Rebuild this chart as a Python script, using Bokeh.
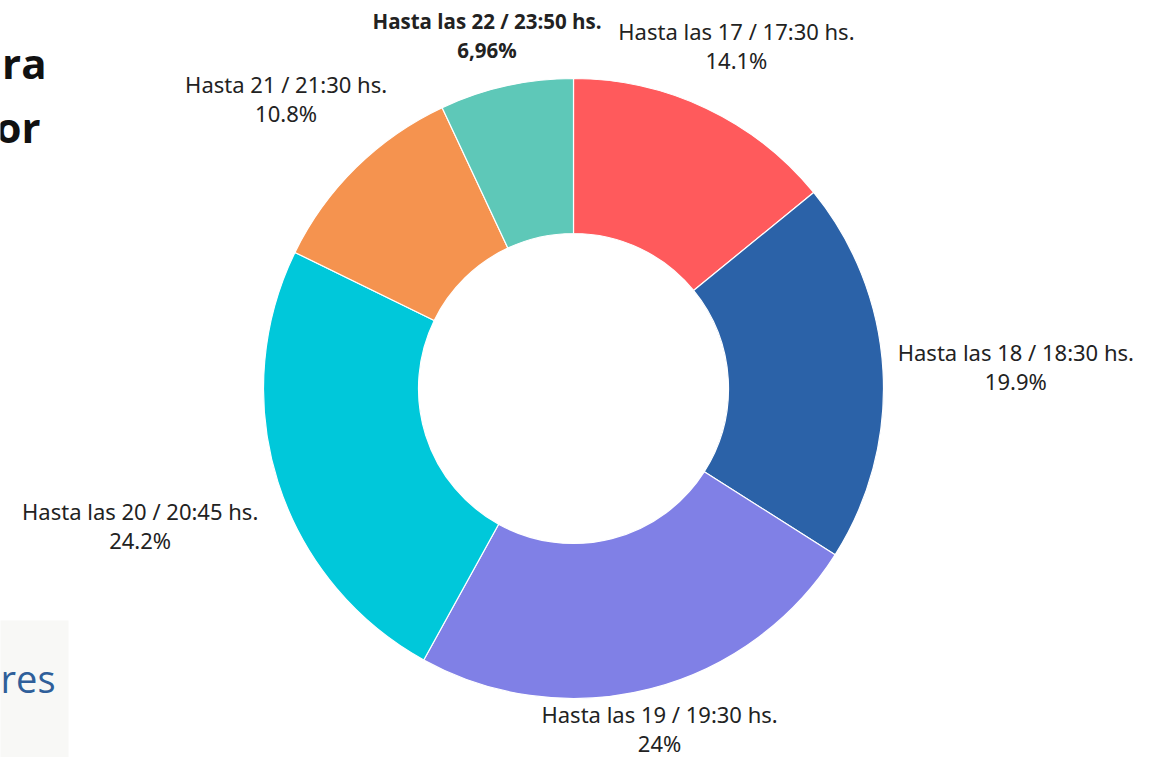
import math
from bokeh.plotting import figure
from bokeh.models import Range1d, ColumnDataSource
from bokeh.core.properties import value
from bokeh.embed import file_html
from bokeh.resources import INLINE

# ---- data ----
labels = ["Hasta las 17 / 17:30 hs.", "Hasta las 18 / 18:30 hs.", "Hasta las 19 / 19:30 hs.",
          "Hasta las 20 / 20:45 hs.", "Hasta 21 / 21:30 hs.", "Hasta las 22 / 23:50 hs."]
pct_text = ["14.1%", "19.9%", "24%", "24.2%", "10.8%", "6,96%"]
values = [14.1, 19.9, 24.0, 24.2, 10.8, 6.96]
colors = ["#FF5A5C", "#2B62A8", "#8080E6", "#00C8DA", "#F5934F", "#5EC8B8"]
bold = [False, False, False, False, False, True]

# ---- layout (data coordinates = screen pixels, y flipped) ----
W, H = 1145, 757
CX = 573
CY = H - 388
R_OUT, R_IN = 310, 155
R_LAB = 380
# per-label fine tuning (screen px: dx right, dy down)
lab_dx = [0, 63, -8, -71, -21, -4]
lab_dy = [0, 0, -28, 22, -19, 18]

p = figure(width=W, height=H, output_backend="svg", toolbar_location=None,
           x_range=Range1d(0, W), y_range=Range1d(0, H), min_border=0)
p.axis.visible = False
p.grid.visible = False
p.outline_line_color = None
p.background_fill_color = "white"
p.border_fill_color = "white"

total = sum(values)
starts, ends, mids = [], [], []
acc = 0.0
for v in values:
    a0 = math.pi / 2 - 2 * math.pi * acc / total
    acc += v
    a1 = math.pi / 2 - 2 * math.pi * acc / total
    starts.append(a0)
    ends.append(a1)
    mids.append((a0 + a1) / 2)

src = ColumnDataSource(dict(start=starts, end=ends, color=colors))
p.annular_wedge(x=CX, y=CY, inner_radius=R_IN, outer_radius=R_OUT,
                start_angle="start", end_angle="end", direction="clock",
                fill_color="color", line_color="white", line_width=1.2, source=src)

# labels
for i in range(len(values)):
    lx = CX + R_LAB * math.cos(mids[i]) + lab_dx[i]
    ly = CY + R_LAB * math.sin(mids[i]) - lab_dy[i]
    if bold[i]:
        font, style, size = "Open Sans", "bold", "20.5px"
    else:
        font, style, size = "Noto Sans", "normal", "22px"
    p.text(x=[lx], y=[ly + 14.5], text=[labels[i]], text_align="center", text_baseline="middle",
           text_font=value(font), text_font_style=style, text_font_size=size, text_color="#222222")
    p.text(x=[lx], y=[ly - 14.5], text=[pct_text[i]], text_align="center", text_baseline="middle",
           text_font=value(font), text_font_style=style, text_font_size=size, text_color="#222222")

# cropped fragments at left edge
p.quad(left=[-8], right=[68], bottom=[-8], top=[H - 620], fill_color="#F8F8F6", line_color=None)
p.text(x=[46], y=[H - 62], text=["ra"], text_align="right", text_baseline="middle",
       text_font=value("Open Sans"), text_font_style="bold", text_font_size="42px", text_color="#111111")
p.text(x=[40], y=[H - 126], text=["or"], text_align="right", text_baseline="middle",
       text_font=value("Open Sans"), text_font_style="bold", text_font_size="42px", text_color="#111111")
p.text(x=[55], y=[H - 677], text=["res"], text_align="right", text_baseline="middle",
       text_font=value("Open Sans"), text_font_style="normal", text_font_size="38px", text_color="#2F5F9A")

open("out.html", "w").write(file_html(p, INLINE))
